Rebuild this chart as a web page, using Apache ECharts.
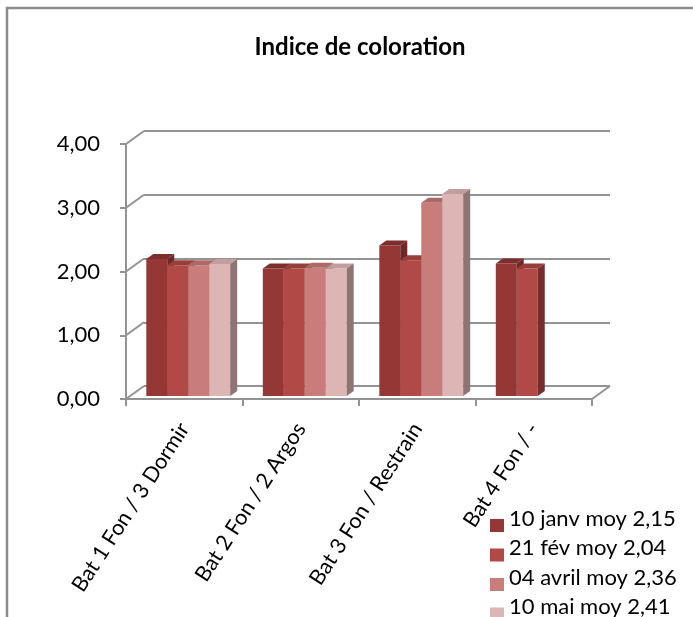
<!DOCTYPE html>
<html>
<head>
<meta charset="utf-8">
<script src="https://cdn.jsdelivr.net/npm/echarts@6/dist/echarts.min.js"></script>
<style>
  html, body { margin: 0; padding: 0; background: #fff; }
  #chart { width: 693px; height: 617px; }
</style>
</head>
<body>
<div id="chart"></div>
<script>
// Categories, series and axis ticks
const categories = ['Bat 1 Fon / 3 Dormir', 'Bat 2 Fon / 2 Argos', 'Bat 3 Fon / Restrain', 'Bat 4 Fon / -'];
const seriesNames = ['10 janv moy 2,15', '21 fév moy 2,04', '04 avril moy 2,36', '10 mai moy 2,41'];
const janv = [2.15, 2.00, 2.36, 2.08];
const fev = [2.05, 2.00, 2.13, 2.00];
const avril = [2.05, 2.01, 3.03, null];
const mai = [2.07, 2.00, 3.17, null];
const yTicks = [0, 1, 2, 3, 4];
// Title; the zero-width non-joiner keeps "ti" from forming a ligature
const titleText = 'Indice de colora\u200Ction';

const seriesValues = [janv, fev, avril, mai];

// Face colours per series: front, top, side
const frontColors = ['#943735', '#b14a46', '#c97d7b', '#dcb5b4'];
const topColors = ['#7d2d2b', '#973f3b', '#ad6967', '#c29f9e'];
const sideColors = ['#6e2826', '#742e2c', '#8a5655', '#8e7473'];

const FONT = 'Lato, "Open Sans", sans-serif';
const GRID_COLOR = '#939393';
// Oblique projection of the 3D depth
const WALL_DX = 18, WALL_DY = -13;   // full depth (front edge -> back wall)
const BAR_DX = 4, BAR_DY = -3;       // depth of the bar front faces
const BOX_DX = 7, BOX_DY = -5;       // thickness of each bar
const SLOT = 0.18;                   // bar width as a share of the category band

// Legend swatch: a 14x13 square sitting in the lower part of a 14x27 box,
// so it lines up with the text baseline rather than its middle
const LEGEND_ICON = 'path://M0,0L0,0M0,14L14,14L14,27L0,27Z';

function barRenderer(k) {
  return function (params, api) {
    const ci = api.value(0);
    const v = api.value(1);
    const base = api.coord([ci, 0]);
    const top = api.coord([ci, v]);
    const band = api.size([1, 0])[0];
    const w = band * SLOT;
    const x0 = base[0] + BAR_DX + (k - 2) * w;
    const x1 = x0 + w;
    const yb = base[1] + BAR_DY;
    const yt = top[1] + BAR_DY;
    return {
      type: 'group',
      children: [
        { type: 'polygon', shape: { points: [[x0, yb], [x1, yb], [x1, yt], [x0, yt]] },
          style: { fill: frontColors[k] } },
        { type: 'polygon', shape: { points: [[x0, yt], [x1, yt], [x1 + BOX_DX, yt + BOX_DY], [x0 + BOX_DX, yt + BOX_DY]] },
          style: { fill: topColors[k] } },
        { type: 'polygon', shape: { points: [[x1, yt], [x1 + BOX_DX, yt + BOX_DY], [x1 + BOX_DX, yb + BOX_DY], [x1, yb]] },
          style: { fill: sideColors[k] } }
      ]
    };
  };
}

// Left-wall and floor-side connectors between the front axes and the back wall
function wallRenderer(params, api) {
  const v = api.value(0);
  const band = api.size([1, 0])[0];
  const p = api.coord([0, v]);
  const xl = p[0] - band / 2;
  const lines = [
    { type: 'line', shape: { x1: xl, y1: p[1], x2: xl + WALL_DX, y2: p[1] + WALL_DY },
      style: { stroke: GRID_COLOR, lineWidth: 2 } }
  ];
  if (v === 0) {
    const q = api.coord([categories.length - 1, 0]);
    const xr = q[0] + band / 2;
    lines.push({ type: 'line', shape: { x1: xr, y1: q[1], x2: xr + WALL_DX, y2: q[1] + WALL_DY },
      style: { stroke: GRID_COLOR, lineWidth: 2 } });
  }
  return { type: 'group', children: lines };
}

const FRONT = { left: 126, right: 101, top: 144, bottom: 218 };

const series = [
  {
    type: 'custom',
    name: 'murs',
    xAxisIndex: 0, yAxisIndex: 0,
    silent: true,
    clip: false,
    z: 1,
    renderItem: wallRenderer,
    data: yTicks.map(v => [v]),
    encode: { y: 0 }
  }
];
seriesValues.forEach((vals, k) => {
  series.push({
    type: 'custom',
    name: seriesNames[k],
    xAxisIndex: 0, yAxisIndex: 0,
    clip: false,
    z: 2 + k,
    itemStyle: { color: frontColors[k] },
    renderItem: barRenderer(k),
    data: vals.map((v, i) => [i, v]).filter(d => d[1] !== null),
    encode: { x: 0, y: 1 }
  });
});

const chart = echarts.init(document.getElementById('chart'), null, { renderer: 'canvas' });
chart.setOption({
  backgroundColor: '#ffffff',
  animation: false,
  title: {
    text: titleText,
    left: 355,
    textAlign: 'center',
    top: 30,
    textStyle: { fontFamily: FONT, fontSize: 24, fontWeight: 'bold', color: '#000' }
  },
  graphic: [
    { type: 'rect', shape: { x: 7, y: 8, width: 760, height: 680 },
      style: { fill: 'none', stroke: '#8c8c8c', lineWidth: 2.5 }, silent: true, z: 0 }
  ],
  legend: {
    orient: 'vertical',
    left: 490,
    top: 505,
    height: 160,
    padding: 0,
    itemWidth: 14,
    itemHeight: 27,
    itemGap: 2.5,
    icon: LEGEND_ICON,
    data: seriesNames,
    textStyle: { fontFamily: FONT, fontSize: 22, color: '#000' }
  },
  grid: [
    FRONT,
    { left: FRONT.left + WALL_DX, right: FRONT.right - WALL_DX, top: FRONT.top + WALL_DY, bottom: FRONT.bottom - WALL_DY }
  ],
  xAxis: [
    {
      type: 'category',
      gridIndex: 0,
      data: categories,
      boundaryGap: true,
      axisLine: { lineStyle: { color: GRID_COLOR, width: 2 } },
      axisTick: { show: true, length: 7, lineStyle: { color: GRID_COLOR, width: 2 } },
      axisLabel: { rotate: 57, margin: 26, interval: 0, fontFamily: FONT, fontSize: 21.5, color: '#000' },
      splitLine: { show: false }
    },
    {
      type: 'category',
      gridIndex: 1,
      data: categories,
      show: false
    }
  ],
  yAxis: [
    {
      type: 'value',
      gridIndex: 0,
      min: 0, max: 4, interval: 1,
      axisLine: { show: true, lineStyle: { color: GRID_COLOR, width: 2 } },
      axisTick: { show: true, length: 6, lineStyle: { color: GRID_COLOR, width: 2 } },
      axisLabel: {
        margin: 26, fontFamily: FONT, fontSize: 22, color: '#000',
        formatter: v => v.toFixed(2).replace('.', ',')
      },
      splitLine: { show: false }
    },
    {
      type: 'value',
      gridIndex: 1,
      min: 0, max: 4, interval: 1,
      axisLine: { show: false },
      axisTick: { show: false },
      axisLabel: { show: false },
      splitLine: { show: true, lineStyle: { color: GRID_COLOR, width: 2 } }
    }
  ],
  series: series
});
</script>
</body>
</html>
